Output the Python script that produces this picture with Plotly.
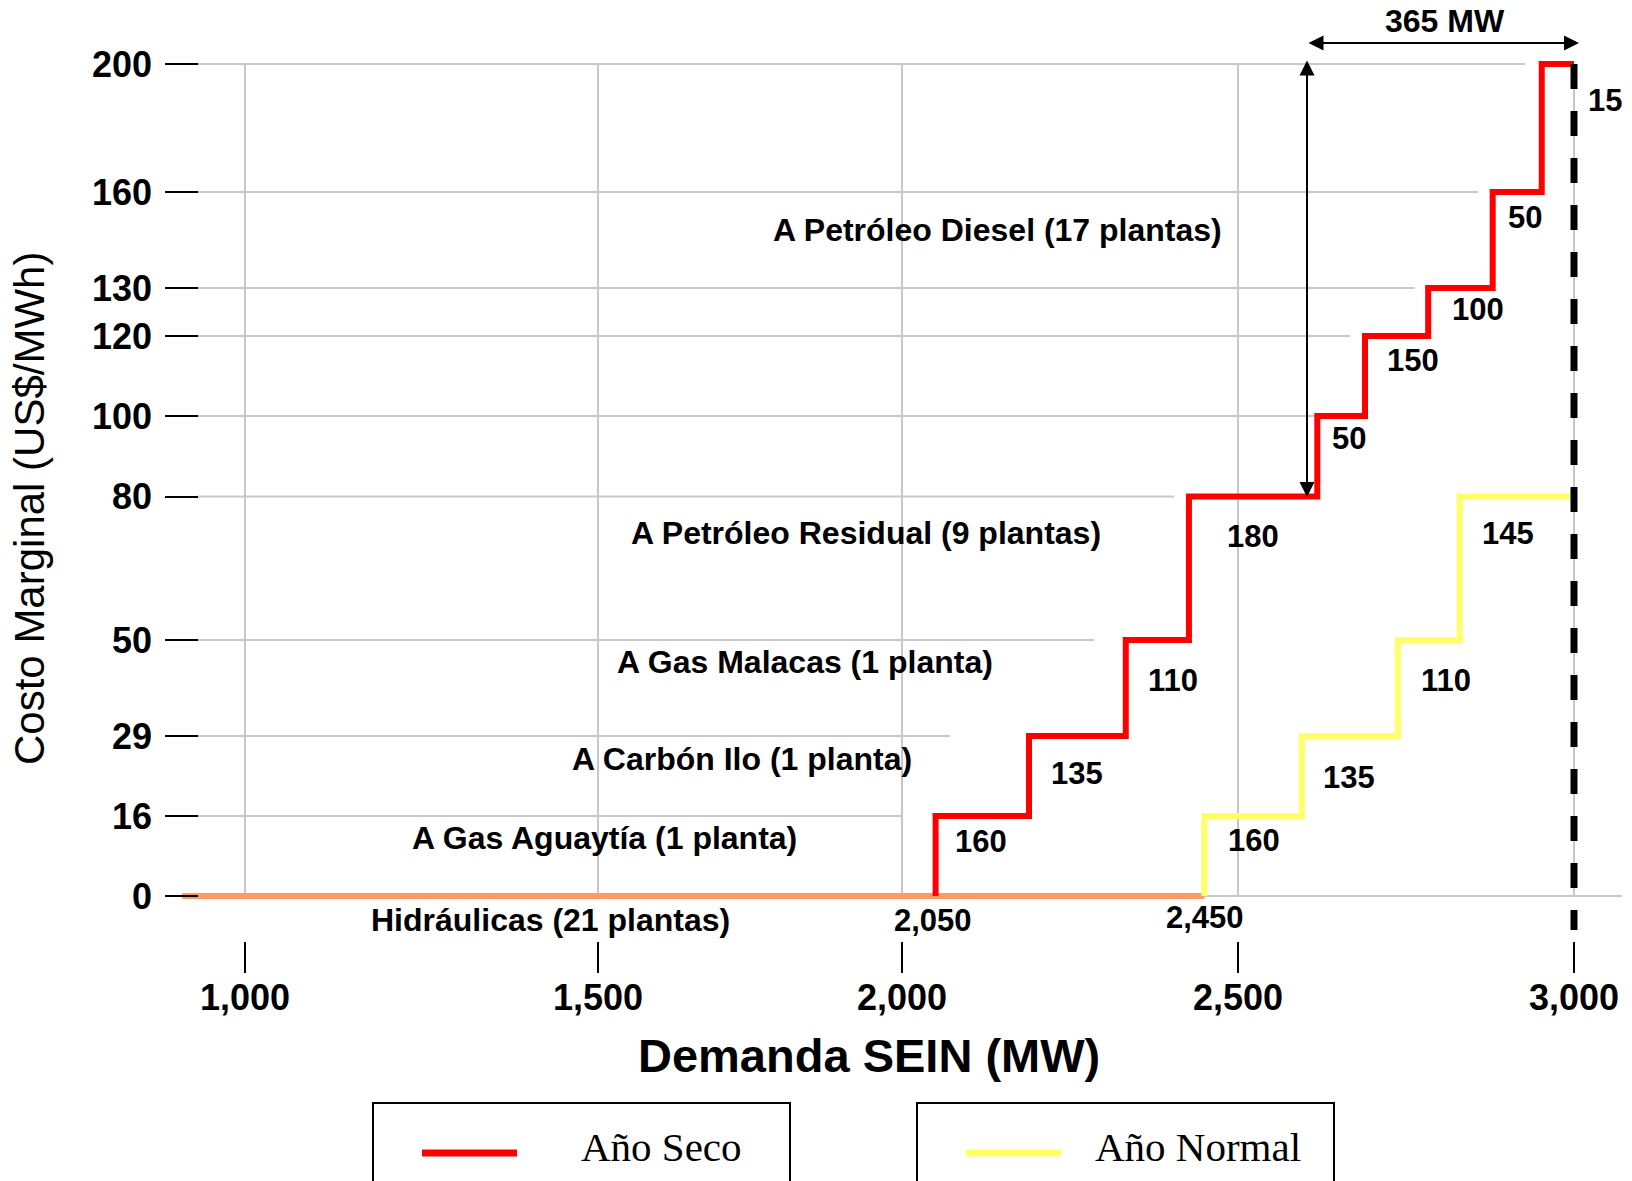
import plotly.graph_objects as go

# ---------------- data ----------------
Y_TICK_VALUES = [0, 16, 29, 50, 80, 100, 120, 130, 160, 200]
X_TICK_VALUES = [1000, 1500, 2000, 2500, 3000]
X_TICK_LABELS = ["1,000", "1,500", "2,000", "2,500", "3,000"]

HYDRO_MW = [911, 2450]          # hydro plants, zero marginal cost
HYDRO_COST = 0

DRY_BREAKS_MW = [2050, 2189, 2333, 2427, 2618, 2689, 2783, 2879, 2952, 3000]
DRY_COST = [16, 29, 50, 80, 100, 120, 130, 160, 200]
DRY_BLOCK_LABELS = ["160", "135", "110", "180", "50", "150", "100", "50", "15"]

NORMAL_BREAKS_MW = [2450, 2595, 2738, 2830, 3000]
NORMAL_COST = [16, 29, 50, 80]
NORMAL_BLOCK_LABELS = ["160", "135", "110", "145"]

PLANT_GROUPS = [
    "A Petróleo Diesel (17 plantas)",
    "A Petróleo Residual (9 plantas)",
    "A Gas Malacas (1 planta)",
    "A Carbón Ilo (1 planta)",
    "A Gas Aguaytía (1 planta)",
    "Hidráulicas (21 plantas)",
]
START_LABELS = ["2,050", "2,450"]
GAP_LABEL = "365 MW"
SERIES_NAMES = ["Año Seco", "Año Normal"]
X_TITLE = "Demanda SEIN (MW)"
Y_TITLE = "Costo Marginal (US$/MWh)"
DEMAND_LIMIT_MW = 3000

# right end (MW) of each horizontal gridline, one per y tick
GRID_END_MW = [3071, 2000, 2071, 2286, 2405, 2618, 2667, 2763, 2857, 2927]
GRID_START_MW = 933

# ---------------- scale (non-uniform axes of the original drawing) ----------------
FIG_W, FIG_H = 1632, 1181
PLOT_L, PLOT_R, PLOT_T, PLOT_B = 165, 1632, 0, 973
X_TICK_POS = [245, 598, 902, 1238, 1574]
Y_TICK_POS = [896, 816, 736, 640, 496.5, 416, 336, 288, 192, 64]


def _interp(v, vals, pos):
    n = len(vals)
    if v <= vals[0]:
        i = 0
    elif v >= vals[-1]:
        i = n - 2
    else:
        i = max(k for k in range(n - 1) if vals[k] <= v)
    v0, v1, p0, p1 = vals[i], vals[i + 1], pos[i], pos[i + 1]
    return p0 + (v - v0) * (p1 - p0) / (v1 - v0)


def xs(mw):
    return _interp(mw, X_TICK_VALUES, X_TICK_POS)


def ys(cost):
    return _interp(cost, Y_TICK_VALUES, Y_TICK_POS)


def paper_x(p):
    return (p - PLOT_L) / (PLOT_R - PLOT_L)


def paper_y(p):
    return (PLOT_B - p) / (PLOT_B - PLOT_T)


def step_points(breaks, costs, base=0):
    x = [breaks[0]]
    y = [base]
    for i, c in enumerate(costs):
        x += [breaks[i], breaks[i + 1]]
        y += [c, c]
    return [xs(v) for v in x], [ys(v) for v in y]


RED = "#FF0000"
YELLOW = "#FFFF66"
ORANGE = "#FF9966"
GRID = "#C8C8C8"
SANS = "Liberation Sans"
SERIF = "Liberation Serif"

fig = go.Figure()

# hydro segment
fig.add_trace(go.Scatter(
    x=[xs(v) for v in HYDRO_MW], y=[ys(HYDRO_COST)] * 2, mode="lines",
    line=dict(color=ORANGE, width=6), hoverinfo="skip", showlegend=False))

# dry year
rx, ry = step_points(DRY_BREAKS_MW, DRY_COST)
fig.add_trace(go.Scatter(x=rx, y=ry, mode="lines", name=SERIES_NAMES[0],
                         line=dict(color=RED, width=6), showlegend=False))
# normal year
nx, ny = step_points(NORMAL_BREAKS_MW, NORMAL_COST)
fig.add_trace(go.Scatter(x=nx, y=ny, mode="lines", name=SERIES_NAMES[1],
                         line=dict(color=YELLOW, width=6), showlegend=False))

shapes = []
# horizontal gridlines
for v, end in zip(Y_TICK_VALUES, GRID_END_MW):
    shapes.append(dict(type="line", xref="x", yref="y", layer="below",
                       x0=xs(GRID_START_MW), x1=xs(end), y0=ys(v), y1=ys(v),
                       line=dict(color=GRID, width=2)))
# vertical gridlines
for v in X_TICK_VALUES:
    shapes.append(dict(type="line", xref="x", yref="y", layer="below",
                       x0=xs(v), x1=xs(v), y0=ys(0), y1=ys(200),
                       line=dict(color=GRID, width=2)))
# demand limit dashed line
shapes.append(dict(type="line", xref="x", yref="y", layer="above",
                   x0=xs(DEMAND_LIMIT_MW), x1=xs(DEMAND_LIMIT_MW), y0=ys(200), y1=930,
                   line=dict(color="black", width=7, dash="25px,22px")))

# legend boxes
LEG = [
    dict(box=(373, 790), line=(422, 517), text_x=661, color=RED),
    dict(box=(917, 1334), line=(966, 1061), text_x=1198, color=YELLOW),
]
annotations = []
for name, lg in zip(SERIES_NAMES, LEG):
    shapes.append(dict(type="rect", xref="paper", yref="paper",
                       x0=paper_x(lg["box"][0]), x1=paper_x(lg["box"][1]),
                       y0=paper_y(1103), y1=paper_y(1195),
                       line=dict(color="black", width=2), fillcolor="rgba(0,0,0,0)"))
    shapes.append(dict(type="line", xref="paper", yref="paper",
                       x0=paper_x(lg["line"][0]), x1=paper_x(lg["line"][1]),
                       y0=paper_y(1153), y1=paper_y(1153),
                       line=dict(color=lg["color"], width=7)))
    annotations.append(dict(text=name, xref="paper", yref="paper",
                            x=paper_x(lg["text_x"]), y=paper_y(1147),
                            showarrow=False, xanchor="center", yanchor="middle",
                            font=dict(family=SERIF, size=41, color="black")))

bold = lambda s: dict(family=SANS, size=s, color="black", weight="bold")

# plant group labels
PLANT_POS = [(997, 230), (866, 533), (805, 662), (742, 759), (604, 838), (550, 920)]
for t, (px, py) in zip(PLANT_GROUPS, PLANT_POS):
    annotations.append(dict(text=t, x=px, y=py, xref="x", yref="y", showarrow=False,
                            xanchor="center", yanchor="middle", font=bold(32)))

START_POS = [(933, 920), (1205, 917)]
for t, (px, py) in zip(START_LABELS, START_POS):
    annotations.append(dict(text=t, x=px, y=py, xref="x", yref="y", showarrow=False,
                            xanchor="center", yanchor="middle", font=bold(31)))

DRY_LABEL_POS = [(981, 841), (1077, 773), (1173, 680), (1253, 536), (1349, 438),
                 (1413, 360), (1478, 309), (1525, 217), (1605, 100)]
for t, (px, py) in zip(DRY_BLOCK_LABELS, DRY_LABEL_POS):
    annotations.append(dict(text=t, x=px, y=py, xref="x", yref="y", showarrow=False,
                            xanchor="center", yanchor="middle", font=bold(31)))

NORMAL_LABEL_POS = [(1254, 840), (1349, 777), (1446, 680), (1508, 533)]
for t, (px, py) in zip(NORMAL_BLOCK_LABELS, NORMAL_LABEL_POS):
    annotations.append(dict(text=t, x=px, y=py, xref="x", yref="y", showarrow=False,
                            xanchor="center", yanchor="middle", font=bold(31)))

annotations.append(dict(text=GAP_LABEL, x=1445, y=21, xref="x", yref="y", showarrow=False,
                        xanchor="center", yanchor="middle", font=bold(32)))

# arrows
annotations.append(dict(text="", x=1579, y=43, ax=1307, ay=43, xref="x", yref="y",
                        axref="x", ayref="y", showarrow=True, arrowhead=2,
                        arrowside="end+start", arrowsize=1.5, arrowwidth=2,
                        arrowcolor="black", standoff=0, startstandoff=0))
annotations.append(dict(text="", x=1307, y=497, ax=1307, ay=59, xref="x", yref="y",
                        axref="x", ayref="y", showarrow=True, arrowhead=2,
                        arrowside="end+start", arrowsize=1.5, arrowwidth=2,
                        arrowcolor="black", standoff=0, startstandoff=0))

# axis titles
annotations.append(dict(text=X_TITLE, xref="paper", yref="paper", x=paper_x(869),
                        y=paper_y(1055), showarrow=False, xanchor="center",
                        yanchor="middle", font=bold(47)))
annotations.append(dict(text=Y_TITLE, xref="paper", yref="paper", x=paper_x(30),
                        y=paper_y(509), showarrow=False, xanchor="center",
                        yanchor="middle", textangle=-90,
                        font=dict(family=SANS, size=42, color="black")))

fig.update_layout(
    width=FIG_W, height=FIG_H,
    margin=dict(l=PLOT_L, r=FIG_W - PLOT_R, t=PLOT_T, b=FIG_H - PLOT_B),
    paper_bgcolor="white", plot_bgcolor="white",
    showlegend=False,
    shapes=shapes, annotations=annotations,
    xaxis=dict(range=[PLOT_L, PLOT_R], tickmode="array", tickvals=X_TICK_POS,
               ticktext=X_TICK_LABELS, ticks="inside", ticklen=31, tickwidth=2,
               tickcolor="black", showgrid=False, zeroline=False, showline=False,
               tickfont=bold(36), ticklabelstandoff=0, fixedrange=True),
    yaxis=dict(range=[PLOT_B, PLOT_T], tickmode="array", tickvals=Y_TICK_POS,
               ticktext=[str(v) for v in Y_TICK_VALUES], ticks="inside", ticklen=33,
               tickwidth=2, tickcolor="black", showgrid=False, zeroline=False,
               showline=False, tickfont=bold(36), ticklabelstandoff=12, fixedrange=True),
)

fig.write_html(
    "out.html",
    config={"displayModeBar": False},
    post_script="document.body.style.margin='0px';document.body.style.overflow='hidden';",
)
